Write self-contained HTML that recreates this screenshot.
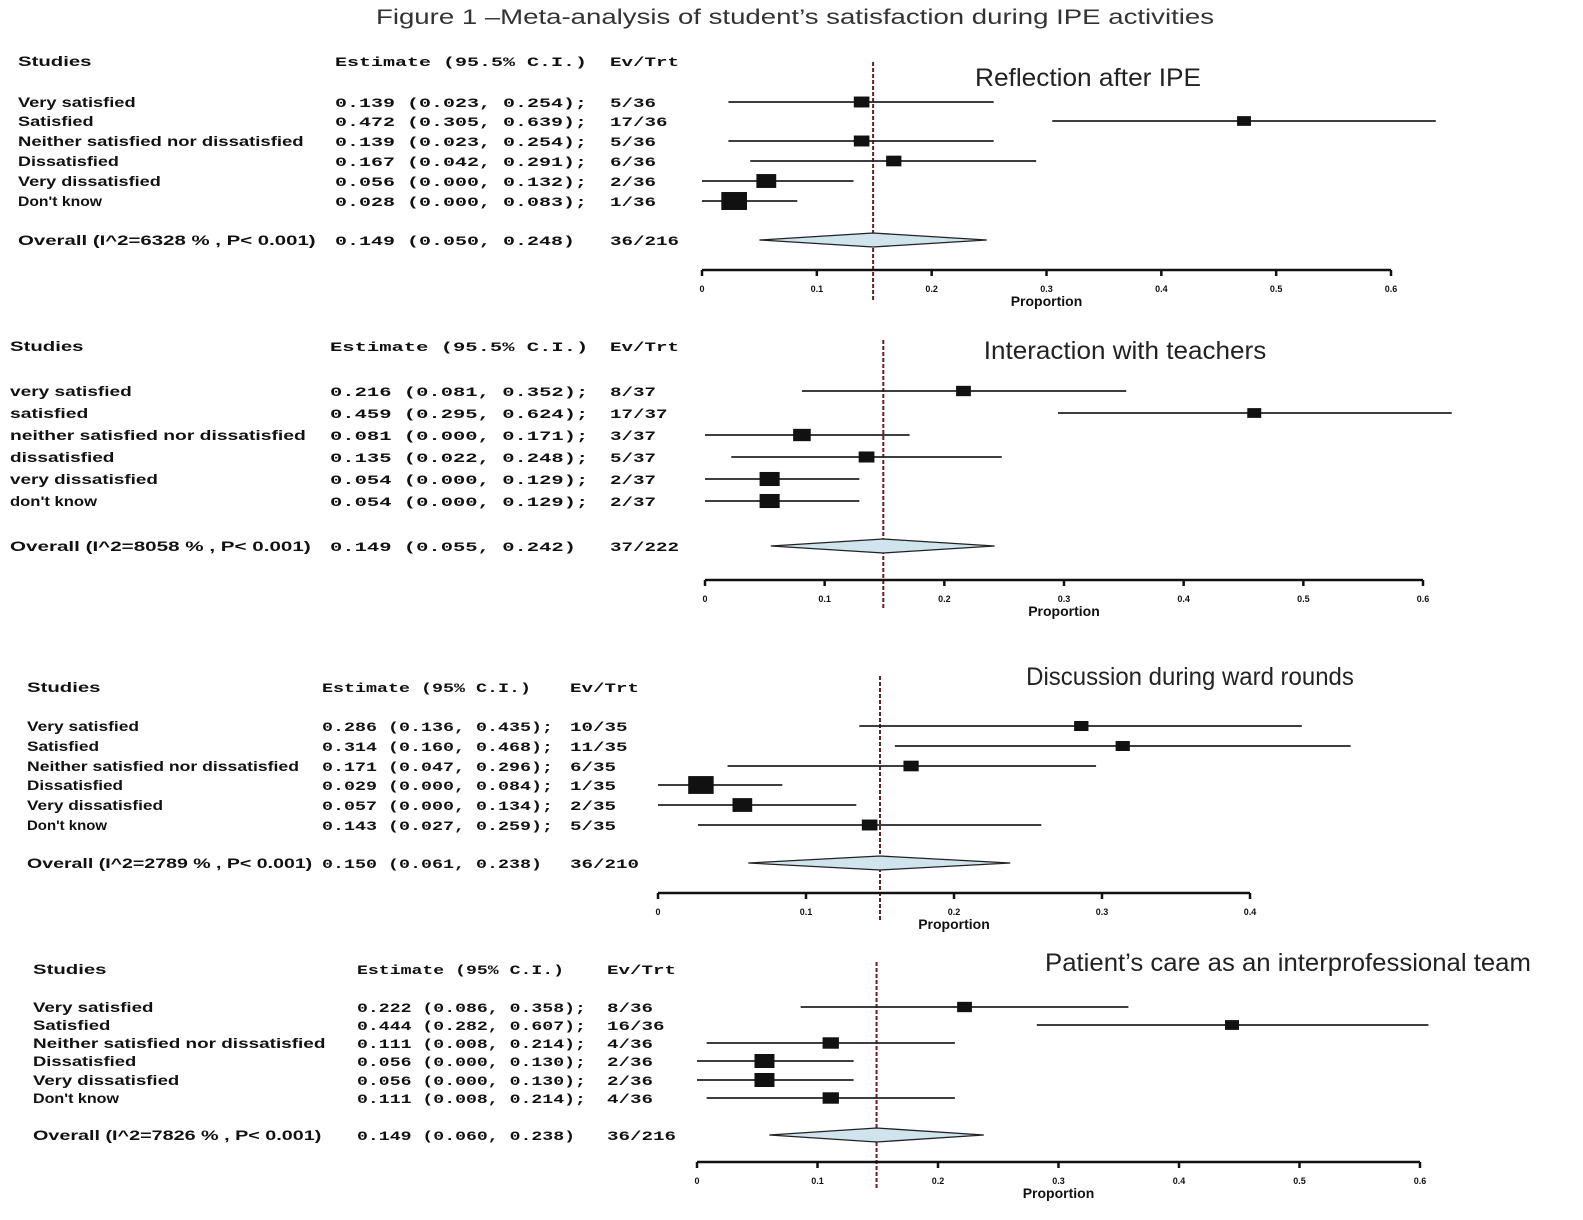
<!DOCTYPE html>
<html><head><meta charset="utf-8"><style>
html,body{margin:0;padding:0;background:#fff;}
svg{display:block;}
.t{font-family:"Liberation Sans",sans-serif;font-weight:bold;font-size:14px;fill:#111;}
.m{font-family:"Liberation Mono",monospace;font-weight:bold;font-size:13px;fill:#111;}
.tk{font-family:"Liberation Sans",sans-serif;font-weight:bold;font-size:9px;fill:#111;}
.ti{font-family:"Liberation Sans",sans-serif;font-size:25px;fill:#222;}
</style></head><body>
<svg id="fig" width="1583" height="1220" viewBox="0 0 1583 1220" xmlns="http://www.w3.org/2000/svg">
<text x="795" y="24" text-anchor="middle" class="ti" style="font-size:21px;fill:#333" textLength="838" lengthAdjust="spacingAndGlyphs">Figure 1 –Meta-analysis of student’s satisfaction during IPE activities</text>
</svg>
<script>
const svg=document.getElementById('fig');
const NS='http://www.w3.org/2000/svg';
function mk(tag,attrs,parent){const e=document.createElementNS(NS,tag);for(const k in attrs)e.setAttribute(k,attrs[k]);(parent||svg).appendChild(e);return e;}

// Panel data
const p1Labels=["Very satisfied","Satisfied","Neither satisfied nor dissatisfied","Dissatisfied","Very dissatisfied","Don't know"];
const p1Est=[0.139,0.472,0.139,0.167,0.056,0.028];
const p1Lo=[0.023,0.305,0.023,0.042,0.000,0.000];
const p1Hi=[0.254,0.639,0.254,0.291,0.132,0.083];
const p1Ev=["5/36","17/36","5/36","6/36","2/36","1/36"];
const p1Overall=[0.149,0.050,0.248];
const p2Labels=["very satisfied","satisfied","neither satisfied nor dissatisfied","dissatisfied","very dissatisfied","don't know"];
const p2Est=[0.216,0.459,0.081,0.135,0.054,0.054];
const p2Lo=[0.081,0.295,0.000,0.022,0.000,0.000];
const p2Hi=[0.352,0.624,0.171,0.248,0.129,0.129];
const p2Ev=["8/37","17/37","3/37","5/37","2/37","2/37"];
const p2Overall=[0.149,0.055,0.242];
const p3Labels=["Very satisfied","Satisfied","Neither satisfied nor dissatisfied","Dissatisfied","Very dissatisfied","Don't know"];
const p3Est=[0.286,0.314,0.171,0.029,0.057,0.143];
const p3Lo=[0.136,0.160,0.047,0.000,0.000,0.027];
const p3Hi=[0.435,0.468,0.296,0.084,0.134,0.259];
const p3Ev=["10/35","11/35","6/35","1/35","2/35","5/35"];
const p3Overall=[0.150,0.061,0.238];
const p4Labels=["Very satisfied","Satisfied","Neither satisfied nor dissatisfied","Dissatisfied","Very dissatisfied","Don't know"];
const p4Est=[0.222,0.444,0.111,0.056,0.056,0.111];
const p4Lo=[0.086,0.282,0.008,0.000,0.000,0.008];
const p4Hi=[0.358,0.607,0.214,0.130,0.130,0.214];
const p4Ev=["8/36","16/36","4/36","2/36","2/36","4/36"];
const p4Overall=[0.149,0.060,0.238];
const p1Ticks=["0","0.1","0.2","0.3","0.4","0.5","0.6"];
const p3Ticks=["0","0.1","0.2","0.3","0.4"];

const panels=[
 {name:'reflection',title:'Reflection after IPE',tx:1088,ty:86,L:p1Labels,E:p1Est,Lo:p1Lo,Hi:p1Hi,Ev:p1Ev,O:p1Overall,ticks:p1Ticks,max:0.6,
  x0:702,x1:1391,axY:270,hdr:62,rows:[102,121,141,161,181,201],ov:240,cs:18,ce:335,cv:610,ep:12,lp:8.4,op:9.6,
  overallTxt:"Overall (I^2=6328 % , P< 0.001)",ovEv:"36/216",est:"Estimate (95.5% C.I.)",dashTop:62,dashBot:300},
 {name:'interaction',title:'Interaction with teachers',tx:1125,ty:359,L:p2Labels,E:p2Est,Lo:p2Lo,Hi:p2Hi,Ev:p2Ev,O:p2Overall,ticks:p1Ticks,max:0.6,
  x0:705,x1:1423,axY:580,hdr:347,rows:[391,413,435,457,479,501],ov:546,cs:10,ce:330,cv:610,ep:12.3,lp:8.7,op:9.7,
  overallTxt:"Overall (I^2=8058 % , P< 0.001)",ovEv:"37/222",est:"Estimate (95.5% C.I.)",dashTop:340,dashBot:610},
 {name:'ward-rounds',title:'Discussion during ward rounds',tx:1190,ty:685,L:p3Labels,E:p3Est,Lo:p3Lo,Hi:p3Hi,Ev:p3Ev,O:p3Overall,ticks:p3Ticks,max:0.4,
  x0:658,x1:1250,axY:893,hdr:688,rows:[726,746,766,785,805,825],ov:863,cs:27,ce:322,cv:570,ep:11,lp:8.0,op:9.2,
  overallTxt:"Overall (I^2=2789 % , P< 0.001)",ovEv:"36/210",est:"Estimate (95% C.I.)",dashTop:676,dashBot:920},
 {name:'patient-care',title:'Patient’s care as an interprofessional team',tx:1288,ty:971,L:p4Labels,E:p4Est,Lo:p4Lo,Hi:p4Hi,Ev:p4Ev,O:p4Overall,ticks:p1Ticks,max:0.6,
  x0:697,x1:1420,axY:1162,hdr:970,rows:[1007,1025,1043,1061,1080,1098],ov:1135,cs:33,ce:357,cv:607,ep:10.9,lp:8.6,op:9.3,
  overallTxt:"Overall (I^2=7826 % , P< 0.001)",ovEv:"36/216",est:"Estimate (95% C.I.)",dashTop:962,dashBot:1190}
];

function fit(el,per){el.setAttribute('textLength',(el.textContent.length*per).toFixed(1));el.setAttribute('lengthAdjust','spacingAndGlyphs');}

panels.forEach(p=>{
 const g=mk('g',{});
 
 
 const X=v=>p.x0+(v/p.max)*(p.x1-p.x0);
 const ti=mk('text',{x:p.tx,y:p.ty,'text-anchor':'middle',class:'ti'},g);ti.textContent=p.title;
 fit(ti,11.3);
 
 
 const h1=mk('text',{x:p.cs,y:p.hdr+4,class:'t'},g);h1.textContent='Studies';fit(h1,10.5);
 
 
 const h2=mk('text',{x:p.ce,y:p.hdr+4,class:'m'},g);h2.textContent=p.est;fit(h2,p.ep);
 
 
 const h3=mk('text',{x:p.cv,y:p.hdr+4,class:'m'},g);h3.textContent='Ev/Trt';fit(h3,11.5);
 
 
 const dl=mk('line',{x1:X(p.O[0]),x2:X(p.O[0]),y1:p.dashTop,y2:p.dashBot,stroke:'#6b1f1f','stroke-width':2,'stroke-dasharray':'4,2'},g);
 
 
 p.L.forEach((lab,i)=>{
  const y=p.rows[i];
  const a=mk('text',{x:p.cs,y:y+5,class:'t'},g);a.textContent=lab;fit(a,p.lp);
  
  
  const b=mk('text',{x:p.ce,y:y+5,class:'m'},g);
  b.textContent=p.E[i].toFixed(3)+' ('+p.Lo[i].toFixed(3)+', '+p.Hi[i].toFixed(3)+');';
  fit(b,p.ep);
  
  
  const c=mk('text',{x:p.cv,y:y+5,class:'m'},g);c.textContent=p.Ev[i];fit(c,11.5);
  
  
  const ci=mk('line',{x1:X(p.Lo[i]),x2:X(p.Hi[i]),y1:y,y2:y,stroke:'#222','stroke-width':1.8},g);
  
  
  const w=Math.min(27,10+1.3/(p.Hi[i]-p.Lo[i]));
  const hgt=Math.min(18,w*0.7);
  const sq=mk('rect',{x:X(p.E[i])-w/2,y:y-hgt/2,width:w,height:hgt,fill:'#111'},g);
  
  
 });
 const oy=p.ov;
 const o1=mk('text',{x:p.cs,y:oy+5,class:'t'},g);o1.textContent=p.overallTxt;fit(o1,p.op);
 
 
 const o2=mk('text',{x:p.ce,y:oy+5,class:'m'},g);
 o2.textContent=p.O[0].toFixed(3)+' ('+p.O[1].toFixed(3)+', '+p.O[2].toFixed(3)+')';
 fit(o2,p.ep);
 
 
 const o3=mk('text',{x:p.cv,y:oy+5,class:'m'},g);o3.textContent=p.ovEv;fit(o3,11.5);
 
 
 const dm=mk('polygon',{points:`${X(p.O[1])},${oy} ${X(p.O[0])},${oy-7} ${X(p.O[2])},${oy} ${X(p.O[0])},${oy+7}`,fill:'#cfe4ec',stroke:'#222','stroke-width':1.3},g);
 
 
 const ax=mk('line',{x1:p.x0,x2:p.x1,y1:p.axY,y2:p.axY,stroke:'#111','stroke-width':2.5},g);
 
 
 p.ticks.forEach((tl,i)=>{
  const v=i*0.1, x=X(v);
  const tk=mk('line',{x1:x,x2:x,y1:p.axY,y2:p.axY+6,stroke:'#111','stroke-width':2.5},g);
  
  
  const tt=mk('text',{x:x,y:p.axY+22,'text-anchor':'middle',class:'tk'},g);tt.textContent=tl;
  
  
 });
 const pr=mk('text',{x:(p.x0+p.x1)/2,y:p.axY+36,'text-anchor':'middle',class:'t'},g);pr.textContent='Proportion';
 
 
});
</script>
</body></html>
